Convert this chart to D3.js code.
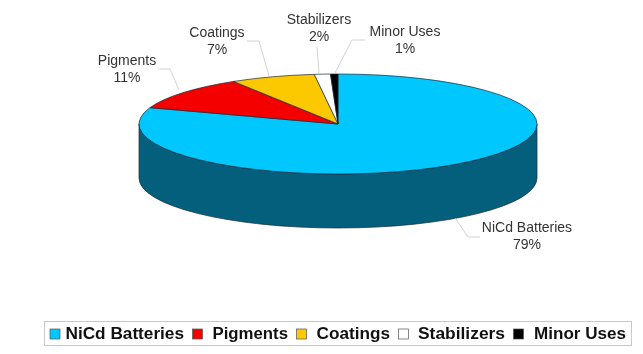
<!DOCTYPE html>
<html>
<head>
<meta charset="utf-8">
<script src="https://cdnjs.cloudflare.com/ajax/libs/d3/7.8.5/d3.min.js"></script>
<style>
    html, body { margin: 0; padding: 0; background: #fff; }
    svg { display: block; font-family: "Liberation Sans", Arial, sans-serif; filter: blur(0.35px); }
</style>
</head>
<body>
<svg id="canvas" width="643" height="354"></svg>
<script>
(function () {

    // Data.
    var categories = ["NiCd Batteries", "Pigments", "Coatings", "Stabilizers", "Minor Uses"];
    var percentLabels = [79, 11, 7, 2, 1];
    // The 3D view squeezes the slices, so these are the shares as they are drawn.
    var drawnShares = [80.3, 10.9, 6.9, 1.3, 0.6];
    var colors = ["#00c8ff", "#f40000", "#fcc800", "#ffffff", "#000000"];

    var svg = d3.select("#canvas");

    // Pie geometry.
    var cx = 338, cy = 124, rx = 199, ry = 50, depth = 54;
    var sideColor = "#045f7d";
    var edgeColor = "#1a2a3a";

    // Extruded side of the disc.
    var side = "M" + (cx - rx) + "," + cy +
        "L" + (cx - rx) + "," + (cy + depth) +
        "A" + rx + "," + ry + " 0 0 0 " + (cx + rx) + "," + (cy + depth) +
        "L" + (cx + rx) + "," + cy +
        "A" + rx + "," + ry + " 0 0 1 " + (cx - rx) + "," + cy + "Z";
    svg.append("path")
        .attr("d", side)
        .attr("fill", sideColor)
        .attr("stroke", edgeColor)
        .attr("stroke-width", 0.7);

    // Top of the pie: a normal arc, flattened.
    var pie = d3.pie().sort(null).value(d => d);
    var arc = d3.arc().innerRadius(0).outerRadius(rx);
    svg.append("g")
        .attr("transform", "translate(" + cx + "," + cy + ") scale(1," + (ry / rx) + ")")
        .selectAll("path")
        .data(pie(drawnShares))
        .join("path")
        .attr("d", arc)
        .attr("fill", (d, i) => colors[i])
        .attr("stroke", edgeColor)
        .attr("stroke-width", 0.7)
        .attr("vector-effect", "non-scaling-stroke");

    // Callouts: label centre, first baseline and the leader line to the slice.
    var labelX = [527, 127, 217, 319, 405];
    var labelY = [232, 65, 37, 24, 36];
    var leaders = [
        [[455, 218], [468, 237], [480, 237]],
        [[158, 69], [170, 69], [179, 90]],
        [[247, 41], [259, 41], [269, 76]],
        [[317, 47], [319, 73]],
        [[365, 40], [352, 40], [335, 73]]
    ];
    svg.append("g")
        .selectAll("path")
        .data(leaders)
        .join("path")
        .attr("d", d3.line())
        .attr("fill", "none")
        .attr("stroke", "#c8c8c8")
        .attr("stroke-width", 0.8);

    var labels = svg.append("g")
        .selectAll("text")
        .data(categories)
        .join("text")
        .attr("text-anchor", "middle")
        .attr("font-size", 14)
        .attr("fill", "#333");
    labels.append("tspan")
        .attr("x", (d, i) => labelX[i])
        .attr("y", (d, i) => labelY[i])
        .text(d => d);
    labels.append("tspan")
        .attr("x", (d, i) => labelX[i])
        .attr("y", (d, i) => labelY[i] + 17)
        .text((d, i) => percentLabels[i] + "%");

    // Legend.
    svg.append("rect")
        .attr("x", 44.5).attr("y", 321.5)
        .attr("width", 587).attr("height", 24)
        .attr("fill", "#fff")
        .attr("stroke", "#c8c8c8");
    var swatchX = [50, 192.5, 296.5, 398.5, 513.5];
    var legendX = [65.5, 212.5, 316.5, 418, 534];
    var legendWidth = [118.5, 75.5, 73.5, 87, 92];
    var legend = svg.append("g");
    legend.selectAll("rect")
        .data(categories)
        .join("rect")
        .attr("x", (d, i) => swatchX[i])
        .attr("y", 329)
        .attr("width", 10).attr("height", 10)
        .attr("fill", (d, i) => colors[i])
        .attr("stroke", "#555")
        .attr("stroke-width", 0.7);
    legend.selectAll("text")
        .data(categories)
        .join("text")
        .attr("x", (d, i) => legendX[i])
        .attr("y", 339)
        .attr("font-size", 16)
        .attr("font-weight", "bold")
        .attr("fill", "#111")
        .attr("textLength", (d, i) => legendWidth[i])
        .attr("lengthAdjust", "spacingAndGlyphs")
        .text(d => d);

})();
</script>
</body>
</html>
